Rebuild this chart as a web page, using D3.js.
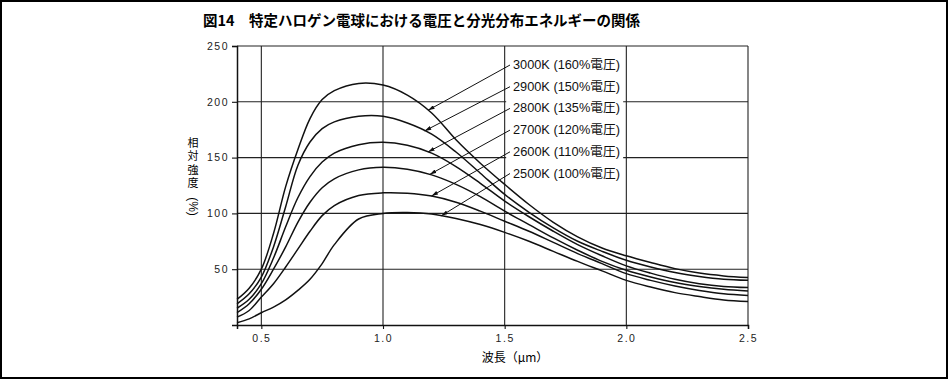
<!DOCTYPE html>
<html>
<head>
<meta charset="utf-8">
<script src="https://cdn.jsdelivr.net/npm/d3@7"></script>
<style>
  body { margin: 0; background: #fff; }
  svg { display: block; }
  .tick text { font-family: "Liberation Sans", Arial, sans-serif; }
</style>
</head>
<body>
<script>
// wavelength (um) and relative intensity (%)
var wavelengths = [0.4, 0.45, 0.5, 0.55, 0.6, 0.65, 0.7, 0.75, 0.8, 0.9, 1.0, 1.1, 1.2,
                   1.3, 1.4, 1.5, 1.6, 1.7, 1.8, 1.9, 2.0, 2.1, 2.2, 2.3, 2.4, 2.5];

var k3000 = [23, 33, 50, 82, 124, 157, 185, 202, 210, 216.5, 215, 206, 190,
             166, 145, 126, 108, 92, 79, 69, 62, 56, 50.5, 46.5, 44, 42.5];
var k2900 = [19, 28, 43, 70, 106, 143, 164, 176, 182, 187, 187, 181, 171,
             155, 136, 117, 101, 87, 75, 66, 58, 52, 47, 43.5, 41, 40];
var k2800 = [15, 23, 37, 60, 88, 114, 133, 146, 154, 161.5, 163.7, 161, 154,
             142, 127, 111, 97, 84, 72, 62, 53, 46.5, 41, 37, 34.5, 33.5];
var k2700 = [11, 19, 32, 50, 70, 92, 110, 123, 131, 139, 141.3, 139.5, 134.5,
             126, 115, 102, 90, 78, 67, 57, 49, 43, 38, 34.5, 32, 30.5];
var k2600 = [7, 13, 25, 37, 52, 68, 84, 98, 107, 116, 118.4, 118, 115.5,
             110, 102, 93, 84, 74, 64, 55, 46, 40, 35, 31, 28, 26.5];
var k2500 = [2, 5.5, 11, 16, 22.5, 31, 41, 55, 72, 95, 100, 100.8, 99.5,
             95.5, 90, 83, 75, 66, 57, 48.5, 40, 34, 29, 25.5, 22.5, 21];

var seriesNames = ['3000K (160%電圧)', '2900K (150%電圧)', '2800K (135%電圧)',
                   '2700K (120%電圧)', '2600K (110%電圧)', '2500K (100%電圧)'];
var seriesValues = [k3000, k2900, k2800, k2700, k2600, k2500];
// wavelength where each label's arrow touches its curve
var arrowAt = [1.185, 1.171, 1.185, 1.192, 1.199, 1.24];

var xTicks = [0.5, 1.0, 1.5, 2.0, 2.5];
var yTicks = [50, 100, 150, 200, 250];

var W = 948, H = 379;
var plotL = 237, plotR = 748, plotT = 46, plotB = 325;

var svg = d3.select('body').append('svg')
  .attr('width', W)
  .attr('height', H);

// outer frame of the figure
svg.append('rect')
  .attr('x', 1).attr('y', 1)
  .attr('width', W - 2).attr('height', H - 2)
  .attr('fill', 'none')
  .attr('stroke', '#000')
  .attr('stroke-width', 2);

svg.append('text')
  .attr('x', 203).attr('y', 26)
  .attr('textLength', 437)
  .attr('lengthAdjust', 'spacingAndGlyphs')
  .style('font-family', '"Noto Sans CJK JP", sans-serif')
  .style('font-weight', 'bold')
  .style('font-size', '14.5px')
  .text('図14　特定ハロゲン電球における電圧と分光分布エネルギーの関係');

var x = d3.scaleLinear().domain([0.4, 2.5]).range([plotL, plotR]);
var y = d3.scaleLinear().domain([0, 250]).range([plotB, plotT]);

// grid
var grid = svg.append('g')
  .attr('stroke', '#222')
  .attr('stroke-width', 1.1);

grid.selectAll('line.h')
  .data(yTicks)
  .enter().append('line')
  .attr('class', 'h')
  .attr('x1', plotL).attr('x2', plotR)
  .attr('y1', function(d) { return y(d); })
  .attr('y2', function(d) { return y(d); });

grid.selectAll('line.v')
  .data(xTicks)
  .enter().append('line')
  .attr('class', 'v')
  .attr('x1', function(d) { return x(d); })
  .attr('x2', function(d) { return x(d); })
  .attr('y1', plotT).attr('y2', plotB);

// white block behind the labels hides the grid there
svg.append('rect')
  .attr('x', x(1.5) + 1.5).attr('y', 53)
  .attr('width', 117).attr('height', 130)
  .attr('fill', '#fff');

// axes
var xAxis = svg.append('g')
  .attr('transform', 'translate(0,' + plotB + ')')
  .call(d3.axisBottom(x).tickValues(xTicks).tickFormat(d3.format('.1f'))
    .tickSize(4).tickPadding(6));

var yAxis = svg.append('g')
  .attr('transform', 'translate(' + plotL + ',0)')
  .call(d3.axisLeft(y).tickValues(yTicks).tickSize(5).tickPadding(3));

[xAxis, yAxis].forEach(function(a) {
  a.select('.domain').attr('stroke', '#111').attr('stroke-width', 1.5);
  a.selectAll('.tick line').attr('stroke', '#111').attr('stroke-width', 1.1);
  a.selectAll('.tick text')
    .attr('fill', '#222')
    .style('font-size', '10.5px')
    .style('letter-spacing', '1.5px');
});

// axis titles
svg.append('text')
  .attr('x', 515).attr('y', 362)
  .attr('text-anchor', 'middle')
  .style('font-family', '"Noto Sans CJK JP", sans-serif')
  .style('font-size', '12px')
  .text('波長（μm）');

svg.append('text')
  .attr('x', 193).attr('y', 137)
  .style('writing-mode', 'vertical-rl')
  .style('font-family', '"Noto Sans CJK JP", sans-serif')
  .style('font-size', '11px')
  .style('letter-spacing', '2.5px')
  .text('相対強度');

svg.append('text')
  .attr('transform', 'translate(193,206.5) rotate(90)')
  .attr('text-anchor', 'middle')
  .attr('dominant-baseline', 'central')
  .style('font-family', '"Liberation Sans", sans-serif')
  .style('font-size', '12px')
  .text('(%)');

// curves
var line = d3.line()
  .x(function(d, i) { return x(wavelengths[i]); })
  .y(function(d) { return y(d); })
  .curve(d3.curveCatmullRom.alpha(0.5));

svg.append('g').selectAll('path')
  .data(seriesValues)
  .enter().append('path')
  .attr('d', line)
  .attr('fill', 'none')
  .attr('stroke', '#111')
  .attr('stroke-width', 1.5);

// labels with leader arrows
svg.append('defs').append('marker')
  .attr('id', 'head')
  .attr('viewBox', '0 0 10 6')
  .attr('refX', 10).attr('refY', 3)
  .attr('markerWidth', 7).attr('markerHeight', 4)
  .attr('markerUnits', 'userSpaceOnUse')
  .attr('orient', 'auto')
  .append('path')
  .attr('d', 'M0,0L10,3L0,6Z')
  .attr('fill', '#111');

function valueAt(vals, w) {
  var i = d3.bisectLeft(wavelengths, w);
  var t = (w - wavelengths[i - 1]) / (wavelengths[i] - wavelengths[i - 1]);
  return vals[i - 1] + t * (vals[i] - vals[i - 1]);
}

var labelX = 510, labelTop = 65, labelStep = 21.7;

var labels = svg.append('g').selectAll('g')
  .data(seriesNames)
  .enter().append('g');

labels.append('line')
  .attr('x1', labelX)
  .attr('y1', function(d, i) { return labelTop + i * labelStep; })
  .attr('x2', function(d, i) { return x(arrowAt[i]); })
  .attr('y2', function(d, i) { return y(valueAt(seriesValues[i], arrowAt[i])); })
  .attr('stroke', '#111')
  .attr('stroke-width', 1)
  .attr('marker-end', 'url(#head)');

labels.append('text')
  .attr('x', labelX + 3)
  .attr('y', function(d, i) { return labelTop + i * labelStep; })
  .attr('dominant-baseline', 'central')
  .attr('textLength', 107)
  .attr('lengthAdjust', 'spacingAndGlyphs')
  .style('font-family', '"Liberation Sans", "Noto Sans CJK JP", sans-serif')
  .style('font-size', '12px')
  .attr('fill', '#111')
  .text(function(d) { return d; });
</script>
</body>
</html>
